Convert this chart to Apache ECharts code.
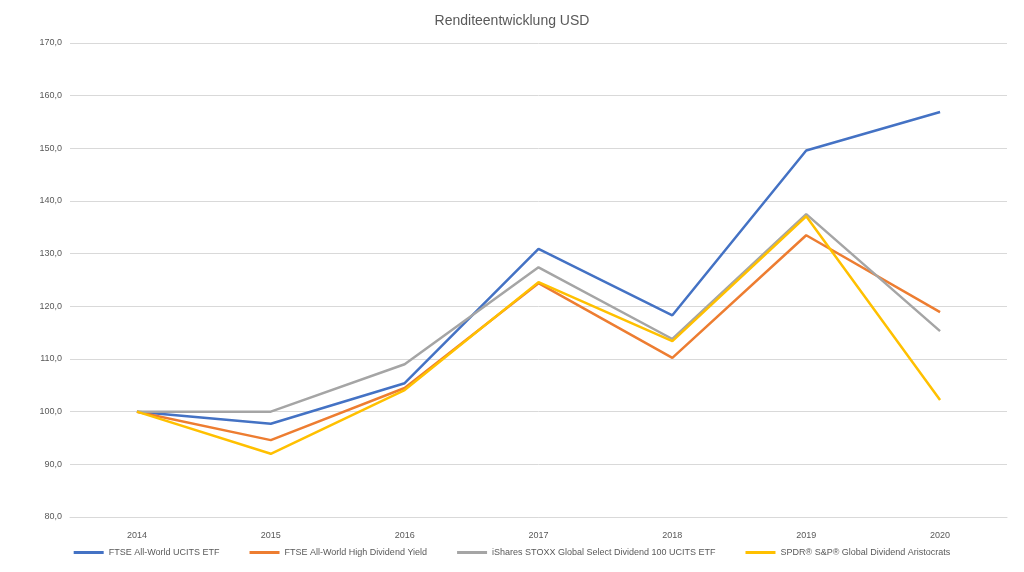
<!DOCTYPE html><html><head><meta charset="utf-8"><script src="https://cdn.jsdelivr.net/npm/echarts@6/dist/echarts.min.js"></script></head><body style="margin:0"><div id="c" style="width:1024px;height:572px"></div><script>
const years=['2014','2015','2016','2017','2018','2019','2020'];
const names=['FTSE All-World UCITS ETF','FTSE All-World High Dividend Yield','iShares STOXX Global Select Dividend 100 UCITS ETF','SPDR® S&P® Global Dividend Aristocrats'];
const blue=[100,97.7,105.4,130.9,118.3,149.6,156.9];
const orange=[100,94.6,104.5,124.4,110.2,133.5,118.9];
const gray=[100,100,109.0,127.4,113.8,137.5,115.3];
const yellow=[100,92.0,104.1,124.6,113.4,137.1,102.2];
const colors=['#4472C4','#ED7D31','#A5A5A5','#FFC000'];
const data=[blue,orange,gray,yellow];
const ch=echarts.init(document.getElementById('c'));
ch.setOption({
title:{text:'Renditeentwicklung USD',left:'center',top:9,textStyle:{fontSize:14,fontWeight:'normal',color:'#595959',fontFamily:'Liberation Sans'}},
color:colors,
legend:{bottom:10,itemWidth:30,itemGap:30,icon:'path://M0,0h30v3h-30z',textStyle:{fontSize:9,color:'#595959'},data:names},
grid:{left:70,right:17,top:43,bottom:55},
xAxis:{type:'category',data:years,axisTick:{show:false},axisLine:{lineStyle:{color:'#D9D9D9'}},axisLabel:{color:'#595959',fontSize:9,margin:14}},
yAxis:{type:'value',min:80,max:170,interval:10,axisLabel:{color:'#595959',fontSize:9,formatter:v=>v.toFixed(1).replace('.',',')},splitLine:{lineStyle:{color:'#D9D9D9'}}},
series:names.map((n,i)=>({name:n,type:'line',data:data[i],symbol:'none',lineStyle:{width:2.5}}))
});
</script></body></html>
